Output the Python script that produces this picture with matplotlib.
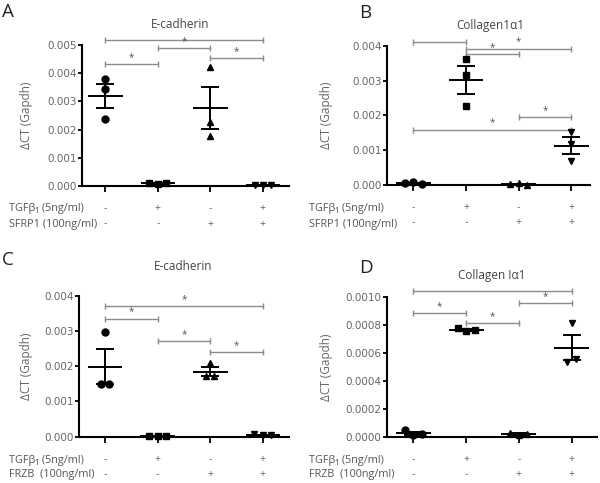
import numpy as np
import matplotlib
matplotlib.use("Agg")
import matplotlib.pyplot as plt
from matplotlib.ticker import FormatStrFormatter

plt.rcParams['font.family'] = ['Open Sans', 'DejaVu Sans']

# treatment rows under each plot
tgf_signs = ['-', '+', '-', '+']
treat_signs = ['-', '-', '+', '+']
markers = ['o', 's', '^', 'v']

# panel A - E-cadherin, SFRP1
a_vals = [[0.00378, 0.00343, 0.00238],
          [0.00010, 0.00007, 0.00010],
          [0.00423, 0.00228, 0.00177],
          [0.00005, 0.00004, 0.00005]]
a_sig = [(1, 4, 0.00517), (2, 3, 0.00490), (3, 4, 0.00452), (1, 2, 0.00432)]

# panel B - Collagen1a1, SFRP1
b_vals = [[0.00005, 0.00008, 0.00003],
          [0.00361, 0.00317, 0.00226],
          [0.00003, 0.00005, 0.00001],
          [0.00152, 0.00117, 0.00070]]
b_sig = [(1, 2, 0.00410), (2, 4, 0.00392), (2, 3, 0.00377), (3, 4, 0.00195), (1, 4, 0.00159)]

# panel C - E-cadherin, FRZB
c_vals = [[0.00296, 0.00150, 0.00150],
          [0.00003, 0.00002, 0.00003],
          [0.00210, 0.00172, 0.00172],
          [0.00007, 0.00004, 0.00004]]
c_sig = [(1, 4, 0.00370), (1, 2, 0.00335), (2, 3, 0.00270), (3, 4, 0.00239)]

# panel D - Collagen Ia1, FRZB
d_vals = [[0.000045, 0.000010, 0.000020],
          [0.000776, 0.000754, 0.000766],
          [0.000028, 0.000010, 0.000020],
          [0.000814, 0.000535, 0.000558]]
d_sig = [(1, 4, 0.001043), (3, 4, 0.000955), (1, 2, 0.000886), (2, 3, 0.000814)]

GRAY = '#666666'
SIG = '#8c8c8c'


def offsets(vals, thr):
    # spread overlapping points sideways like prism does
    vals = np.asarray(vals)
    order = np.argsort(vals)
    offs = np.zeros(len(vals))
    clusters = [[order[0]]]
    for i in order[1:]:
        if vals[i] - vals[clusters[-1][-1]] < thr:
            clusters[-1].append(i)
        else:
            clusters.append([i])
    for cl in clusters:
        cl = sorted(cl)
        n = len(cl)
        for k, i in enumerate(cl):
            offs[i] = (k - (n - 1) / 2) * 0.16
    return offs


def panel(rect, xlim, vals, sig, top, step, fmt, ylab_x):
    ax = fig.add_axes(rect)
    for g, v in enumerate(vals):
        x = g + 1
        v = np.array(v)
        m = v.mean()
        sem = v.std(ddof=1) / np.sqrt(len(v))
        offs = offsets(v, 0.045 * top)
        ax.plot(x + offs, v, markers[g], color='black', ms=5, clip_on=False, zorder=3)
        ax.hlines(m, x - 0.33, x + 0.33, color='black', lw=1.4, zorder=4)
        ax.vlines(x, m - sem, m + sem, color='black', lw=1.4, zorder=4)
        ax.hlines([m - sem, m + sem], x - 0.17, x + 0.17, color='black', lw=1.4, zorder=4)
    for i, j, y in sig:
        ax.plot([i, j], [y, y], color=SIG, lw=1, marker='|', ms=5, mew=1, clip_on=False)
        ax.annotate('*', xy=((i + j) / 2, y), xytext=(0, 0.8), textcoords='offset points',
                    ha='center', va='bottom', fontsize=7, color='#555555')
    ax.set_xlim(*xlim)
    ax.set_ylim(0, top)
    ax.set_yticks(np.arange(0, top + step / 2, step))
    ax.yaxis.set_major_formatter(FormatStrFormatter(fmt))
    ax.set_xticks([1, 2, 3, 4])
    ax.set_xticklabels([])
    for s in ['top', 'right']:
        ax.spines[s].set_visible(False)
    for s in ['left', 'bottom']:
        ax.spines[s].set_linewidth(1.5)
    ax.tick_params(axis='y', length=3, width=1.3, labelsize=7.5, labelcolor=GRAY, pad=1)
    ax.tick_params(axis='x', length=4, width=1.3)
    for lab in ax.get_yticklabels():
        lab.set_family('DejaVu Sans')
    ax.set_ylabel('ΔCT (Gapdh)', fontsize=8.5, color=GRAY)
    ax.yaxis.set_label_coords(ylab_x, 0.5)
    tr = ax.get_xaxis_transform()
    for g in range(4):
        ax.text(g + 1, -0.163, tgf_signs[g], transform=tr, ha='center', va='center',
                fontsize=7.5, color=GRAY)
        ax.text(g + 1, -0.27, treat_signs[g], transform=tr, ha='center', va='center',
                fontsize=7.5, color=GRAY)
    return ax


fig = plt.figure(figsize=(6, 4.83), dpi=100)

panel([0.137, 0.615, 0.345, 0.292], (0.56, 4.5), a_vals, a_sig, 0.005, 0.001, '%.3f', -0.237)
panel([0.645, 0.617, 0.338, 0.288], (0.5, 4.35), b_vals, b_sig, 0.004, 0.001, '%.3f', -0.266)
panel([0.132, 0.096, 0.350, 0.292], (0.51, 4.5), c_vals, c_sig, 0.004, 0.001, '%.3f', -0.219)
panel([0.645, 0.096, 0.350, 0.289], (0.5, 4.48), d_vals, d_sig, 0.001, 0.0002, '%.4f', -0.257)

H = 483.0
W = 600.0
# panel letters
for lab, x, y in [('A', 2, 3), ('B', 359, 4), ('C', 2, 251), ('D', 359, 259)]:
    fig.text(x / W, 1 - y / H, lab, fontsize=13.5, color='#222222', va='top', ha='left')
# titles
for t, x, y in [('E-cadherin', 180, 24), ('Collagen1α1', 490, 25),
                ('E-cadherin', 183, 266), ('Collagen Iα1', 492, 275)]:
    fig.text(x / W, 1 - y / H, t, fontsize=8.5, color='#444444', ha='center', va='center')
# treatment row labels
for x, yt, name in [(9, 209, 'SFRP1 (100ng/ml)'), (309, 209, 'SFRP1 (100ng/ml)'),
                    (9, 460, 'FRZB  (100ng/ml)'), (309, 460, 'FRZB  (100ng/ml)')]:
    fig.text(x / W, 1 - yt / H, 'TGFβ₁ (5ng/ml)', fontsize=7.8, color='#555555', va='center')
    fig.text(x / W, 1 - (yt + 15) / H, name, fontsize=7.8, color='#555555', va='center')

fig.savefig('out.png', dpi=100)
